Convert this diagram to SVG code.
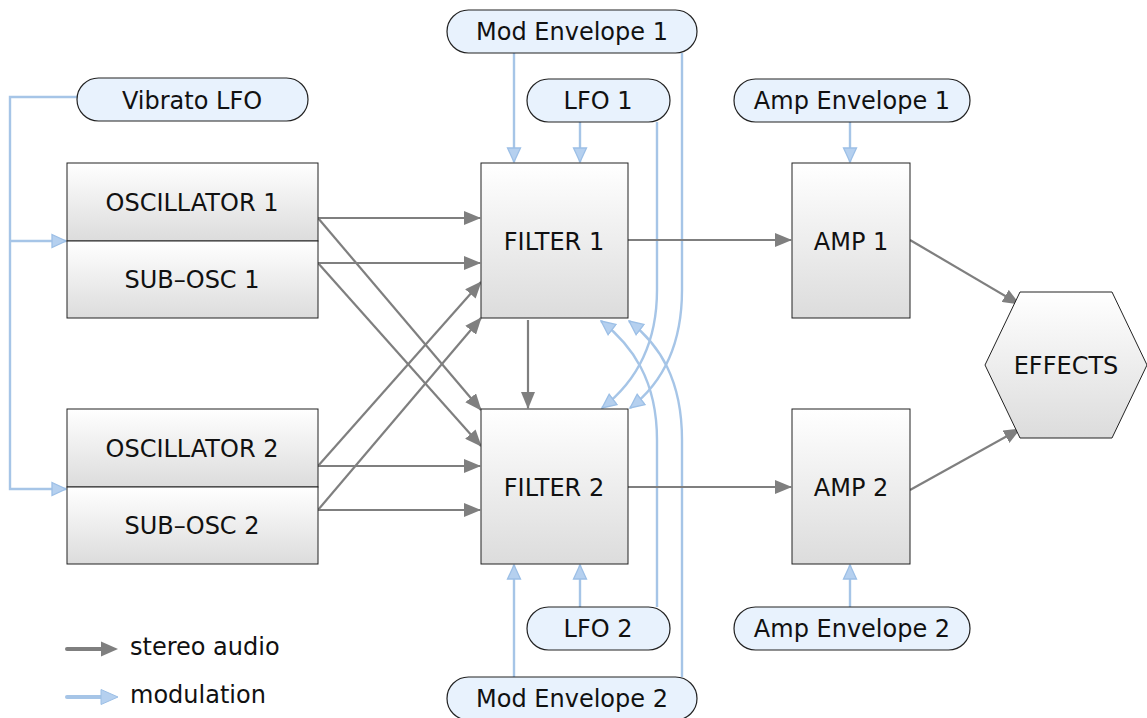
<svg xmlns="http://www.w3.org/2000/svg" width="1147" height="718" viewBox="0 0 1147 718">
<style>
text{font-family:"DejaVu Sans","Liberation Sans",sans-serif;font-size:24px;fill:#111;text-anchor:middle}
.box{fill:url(#g);stroke:#222;stroke-width:1}
.pill{fill:#e8f2fd;stroke:#222;stroke-width:1.2}
.au{fill:none;stroke:#7f7f7f;stroke-width:2.2;marker-end:url(#ga)}
.mo{fill:none;stroke:#a6c5e7;stroke-width:2.4;marker-end:url(#ba)}
</style>
<defs>
<linearGradient id="g" x1="0" y1="0" x2="0" y2="1"><stop offset="0" stop-color="#ffffff"/><stop offset="1" stop-color="#dcdcdc"/></linearGradient>
<marker id="ga" viewBox="0 0 17 14" refX="16" refY="7" markerWidth="17" markerHeight="14" markerUnits="userSpaceOnUse" orient="auto"><path d="M0,0 L17,7 L0,14 z" fill="#7f7f7f"/></marker>
<marker id="ba" viewBox="0 0 16 16" refX="15" refY="8" markerWidth="16" markerHeight="16" markerUnits="userSpaceOnUse" orient="auto"><path d="M1,1.5 L15,8 L1,14.5 z" fill="#b5d0ef" stroke="#9cbfe6" stroke-width="1.3"/></marker>
</defs>
<g id="connectors">
<path class="mo" d="M77 97 H10 V489 H66"/>
<path class="mo" d="M10 241 H66"/>
<path class="mo" d="M514 53 V162"/>
<path class="mo" d="M580 122 V162"/>
<path class="mo" d="M657 122 V290 C657 350 632 385 602 408"/>
<path class="mo" d="M682 53 V290 C682 350 660 385 630 408"/>
<path class="mo" d="M657 607 V440 C657 380 632 345 601 321"/>
<path class="mo" d="M682 677 V440 C682 380 660 345 629 321"/>
<path class="mo" d="M580 607 V565"/>
<path class="mo" d="M514 677 V565"/>
<path class="mo" d="M850 122 V162"/>
<path class="mo" d="M850 607 V565"/>
<path class="au" d="M318 218 H480"/>
<path class="au" d="M318 263 H480"/>
<path class="au" d="M318 218 L481 410"/>
<path class="au" d="M318 263 L481 446"/>
<path class="au" d="M318 466 H480"/>
<path class="au" d="M318 466 L481 282"/>
<path class="au" d="M318 510 H480"/>
<path class="au" d="M318 510 L481 318"/>
<path class="au" d="M528 320 V408"/>
<path class="au" d="M628 240 H791"/>
<path class="au" d="M628 487 H791"/>
<path class="au" d="M910 240 L1019 304"/>
<path class="au" d="M910 490 L1020 429"/>
</g>
<g id="vibrato-lfo"><rect class="pill" x="77" y="78" width="231" height="43" rx="21.5"/><text x="192" y="109">Vibrato LFO</text></g>
<g id="mod-envelope-1"><rect class="pill" x="447" y="10" width="250" height="43" rx="21.5"/><text x="572" y="40">Mod Envelope 1</text></g>
<g id="lfo-1"><rect class="pill" x="527" y="79" width="143" height="43" rx="21.5"/><text x="598" y="109">LFO 1</text></g>
<g id="amp-envelope-1"><rect class="pill" x="734" y="79" width="236" height="43" rx="21.5"/><text x="852" y="109">Amp Envelope 1</text></g>
<g id="oscillator-1"><rect class="box" x="67" y="163" width="251" height="78"/><text x="192" y="211">OSCILLATOR 1</text></g>
<g id="sub-osc-1"><rect class="box" x="67" y="241" width="251" height="77"/><text x="192" y="288">SUB–OSC 1</text></g>
<g id="oscillator-2"><rect class="box" x="67" y="409" width="251" height="78"/><text x="192" y="457">OSCILLATOR 2</text></g>
<g id="sub-osc-2"><rect class="box" x="67" y="487" width="251" height="77"/><text x="192" y="534">SUB–OSC 2</text></g>
<g id="filter-1"><rect class="box" x="481" y="163" width="147" height="155"/><text x="554" y="250">FILTER 1</text></g>
<g id="filter-2"><rect class="box" x="481" y="409" width="147" height="155"/><text x="554" y="496">FILTER 2</text></g>
<g id="amp-1"><rect class="box" x="792" y="163" width="118" height="155"/><text x="851" y="250">AMP 1</text></g>
<g id="amp-2"><rect class="box" x="792" y="409" width="118" height="155"/><text x="851" y="496">AMP 2</text></g>
<g id="effects"><polygon class="box" points="985,365 1020,292 1112,292 1147,365 1112,438 1020,438"/><text x="1066" y="374">EFFECTS</text></g>
<g id="lfo-2"><rect class="pill" x="527" y="607" width="143" height="43" rx="21.5"/><text x="598" y="637">LFO 2</text></g>
<g id="amp-envelope-2"><rect class="pill" x="734" y="607" width="236" height="43" rx="21.5"/><text x="852" y="637">Amp Envelope 2</text></g>
<g id="mod-envelope-2"><rect class="pill" x="447" y="677" width="250" height="43" rx="21.5"/><text x="572" y="707">Mod Envelope 2</text></g>
<g id="legend">
<path d="M67 649 H102" stroke="#7f7f7f" stroke-width="4" stroke-linecap="round"/><path d="M101 641.5 L118 649 L101 656.5 z" fill="#7f7f7f"/>
<text x="130" y="655" style="text-anchor:start">stereo audio</text>
<path d="M67 697 H102" stroke="#a6c5e7" stroke-width="4" stroke-linecap="round"/><path d="M101 689.5 L118 697 L101 704.5 z" fill="#b5d0ef" stroke="#9cbfe6"/>
<text x="130" y="703" style="text-anchor:start">modulation</text>
</g>
</svg>
